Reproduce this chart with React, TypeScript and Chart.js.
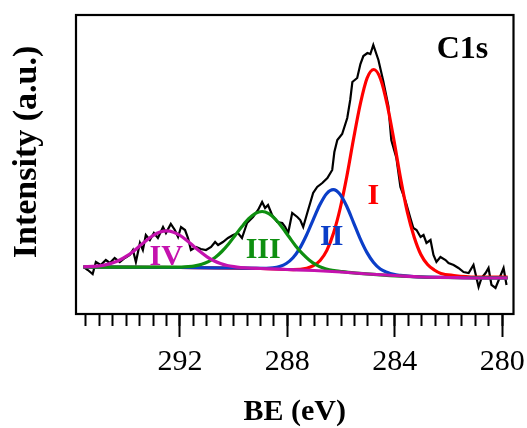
import React, { useEffect, useRef } from 'react';
import { Chart, registerables } from 'chart.js';

Chart.register(...registerables);

// Raw C1s spectrum (binding energy in eV, intensity in a.u.)
const rawBE = [279.84, 279.95, 280.13, 280.25, 280.40, 280.51, 280.62, 280.77, 280.88, 281.07, 281.25, 281.44, 281.63, 281.81, 282.00, 282.11, 282.30, 282.45, 282.56, 282.67, 282.82, 282.93, 283.04, 283.19, 283.31, 283.42, 283.60, 283.79, 283.94, 284.13, 284.24, 284.43, 284.61, 284.80, 284.91, 285.02, 285.17, 285.28, 285.40, 285.58, 285.66, 285.77, 285.96, 286.14, 286.25, 286.33, 286.51, 286.70, 286.89, 287.04, 287.15, 287.26, 287.41, 287.52, 287.63, 287.82, 287.97, 288.08, 288.19, 288.38, 288.57, 288.72, 288.83, 288.94, 289.09, 289.28, 289.50, 289.69, 289.84, 290.02, 290.21, 290.40, 290.58, 290.69, 290.84, 291.03, 291.22, 291.40, 291.59, 291.70, 291.81, 291.96, 292.07, 292.19, 292.34, 292.52, 292.63, 292.82, 292.97, 293.12, 293.27, 293.38, 293.49, 293.64, 293.75, 293.87, 294.05, 294.24, 294.43, 294.61, 294.76, 294.95, 295.13, 295.25, 295.43, 295.58];
const rawIntensity = [29, 46, 34, 26, 29, 46, 41, 36, 27, 49, 41, 42, 46, 49, 51, 54, 57, 52, 59, 74, 71, 79, 77, 84, 86, 96, 113, 127, 156, 174, 208, 233, 254, 269, 260, 261, 258, 250, 236, 232, 214, 196, 180, 174, 162, 144, 136, 131, 127, 121, 111, 101, 87, 94, 97, 101, 81, 87, 91, 92, 99, 109, 106, 112, 104, 97, 91, 76, 81, 79, 76, 72, 69, 72, 67, 64, 65, 67, 64, 76, 84, 87, 77, 84, 90, 81, 87, 76, 81, 74, 79, 64, 71, 52, 64, 59, 56, 52, 56, 51, 54, 49, 52, 40, 44, 47];

// Fitted component I (red)
const peakI_BE = [279.8, 281.0, 281.8, 282.28, 282.53, 282.78, 283.03, 283.28, 283.53, 283.78, 284.03, 284.28, 284.53, 284.78, 285.03, 285.28, 285.53, 285.78, 286.03, 286.28, 286.53, 286.78, 287.03, 287.28, 287.78, 289.0, 292.0, 295.6];
const peakI_Int = [37, 37, 38.5, 40.5, 44, 49.5, 59.5, 77, 101.5, 135, 173.5, 209, 235, 244.5, 236, 210.5, 176, 138.5, 106, 81, 63.6, 53.5, 48.3, 45.8, 44.4, 45.5, 46.5, 47];

// Fitted component II (blue)
const peakII_BE = [279.8, 282.0, 283.29, 283.79, 284.04, 284.29, 284.54, 284.79, 285.04, 285.29, 285.54, 285.79, 286.04, 286.29, 286.54, 286.79, 287.04, 287.29, 287.54, 287.79, 288.04, 288.29, 288.54, 288.79, 290.0, 292.0, 295.6];
const peakII_Int = [36, 36.5, 37.3, 38.6, 39.6, 41.7, 45, 51.5, 61.6, 75.4, 91.7, 107.7, 119.7, 124.3, 120.3, 109.2, 94.2, 78.7, 65.6, 56.2, 50.5, 47.5, 46.1, 45.7, 46, 46.5, 47];

// Fitted component III (green)
const peakIII_BE = [279.8, 283.0, 285.44, 285.94, 286.19, 286.44, 286.69, 286.94, 287.19, 287.44, 287.69, 287.94, 288.19, 288.44, 288.69, 288.94, 289.19, 289.44, 289.69, 289.94, 290.19, 290.44, 290.69, 290.94, 291.19, 291.44, 291.69, 291.94, 293.5, 295.6];
const peakIII_Int = [36, 37, 40.9, 42.3, 43.1, 44.3, 46.2, 49.4, 54.1, 60.3, 68.1, 77.2, 86.5, 94.6, 100.3, 102.5, 100.7, 95.3, 87.5, 78.8, 70, 62.5, 56.5, 52.4, 49.7, 48.1, 47.3, 46.9, 46.8, 47];

// Fitted component IV (magenta)
const peakIV_BE = [279.8, 281.0, 282.0, 283.0, 284.0, 285.0, 286.0, 287.0, 288.0, 289.0, 289.49, 289.74, 289.99, 290.24, 290.49, 290.74, 290.99, 291.24, 291.49, 291.74, 291.99, 292.24, 292.49, 292.74, 292.99, 293.24, 293.49, 293.74, 293.99, 294.24, 294.49, 294.74, 294.99, 295.24, 295.49, 295.6];
const peakIV_Int = [36, 36, 36.5, 37, 38.5, 40, 42, 43.5, 44.5, 45.5, 46, 46.5, 47.3, 48.5, 50.5, 53.3, 57.2, 62.2, 67.8, 73.5, 78.5, 81.8, 83.1, 81.9, 78.6, 73.8, 68.2, 62.6, 57.8, 54, 51.2, 49.4, 48.2, 47.6, 47.3, 47.2];

// Axis ticks and labels
const majorTicks = [280, 284, 288, 292];
const minorTicks = [280, 280.5, 281, 281.5, 282, 282.5, 283, 283.5, 284, 284.5, 285, 285.5, 286, 286.5, 287, 287.5, 288, 288.5, 289, 289.5, 290, 290.5, 291, 291.5, 292, 292.5, 293, 293.5, 294, 294.5, 295, 295.5];
const peakNames = ['I', 'II', 'III', 'IV'];
const peakLabelBE = [284.8, 286.35, 288.9, 292.51];
const peakLabelInt = [110.5, 69, 55.7, 49];
const peakColors = ['#ff0000', '#0b3ec8', '#0e8f10', '#c412ae'];
const xTitle = 'BE (eV)';
const yTitle = 'Intensity (a.u.)';
const panelLabel = 'C1s';

const X_MIN = 279.58;
const X_MAX = 295.87;
const Y_MIN = 0;
const Y_MAX = 299;

const SERIF = '"Liberation Serif", "Times New Roman", Times, serif';

const toPoints = (xs: number[], ys: number[]) => xs.map((x, i) => ({ x, y: ys[i] }));

const decorPlugin = {
  id: 'decor',
  afterDatasetsDraw(chart: any) {
    const { ctx, chartArea: a, scales } = chart;
    ctx.save();
    ctx.strokeStyle = '#000';
    ctx.lineWidth = 2.2;
    ctx.strokeRect(a.left, a.top, a.right - a.left, a.bottom - a.top);

    ctx.font = `bold 30px ${SERIF}`;
    ctx.textAlign = 'center';
    ctx.textBaseline = 'alphabetic';
    peakNames.forEach((name, i) => {
      ctx.fillStyle = peakColors[i];
      ctx.fillText(name, scales.x.getPixelForValue(peakLabelBE[i]), scales.y.getPixelForValue(peakLabelInt[i]));
    });

    ctx.fillStyle = '#000';
    ctx.fillText(xTitle, (a.left + a.right) / 2, chart.height - 8);

    ctx.font = `bold 32px ${SERIF}`;
    ctx.fillText(panelLabel, a.right - 51, a.top + 43);

    ctx.font = `bold 34px ${SERIF}`;
    ctx.translate(36, 152);
    ctx.rotate(-Math.PI / 2);
    ctx.fillText(yTitle, 0, 0);
    ctx.restore();
  },
};

export default function App() {
  const canvasRef = useRef<HTMLCanvasElement | null>(null);

  useEffect(() => {
    if (!canvasRef.current) return;
    const lineBase = { pointRadius: 0, fill: false, cubicInterpolationMode: 'monotone' as const, borderWidth: 3.2 };
    const chart = new Chart(canvasRef.current, {
      type: 'line',
      data: {
        datasets: [
          { ...lineBase, label: 'IV', data: toPoints(peakIV_BE, peakIV_Int), borderColor: peakColors[3] },
          { ...lineBase, label: 'III', data: toPoints(peakIII_BE, peakIII_Int), borderColor: peakColors[2] },
          { ...lineBase, label: 'II', data: toPoints(peakII_BE, peakII_Int), borderColor: peakColors[1] },
          { ...lineBase, label: 'I', data: toPoints(peakI_BE, peakI_Int), borderColor: peakColors[0] },
          { label: 'raw', data: toPoints(rawBE, rawIntensity), borderColor: '#000', borderWidth: 2.2, pointRadius: 0, tension: 0, fill: false },
        ],
      },
      options: {
        animation: false,
        responsive: false,
        devicePixelRatio: 1,
        layout: { padding: { left: 76, right: 13.5, top: 15, bottom: 0 } },
        plugins: { legend: { display: false }, tooltip: { enabled: false }, title: { display: false } },
        scales: {
          x: {
            type: 'linear',
            position: 'bottom',
            reverse: true,
            min: X_MIN,
            max: X_MAX,
            weight: 1,
            afterBuildTicks: (s: any) => { s.ticks = majorTicks.map((v) => ({ value: v })); },
            afterFit: (s: any) => { s.height = 114; },
            grid: { display: true, drawOnChartArea: false, drawTicks: true, tickLength: 23, tickWidth: 2, tickColor: '#000' },
            border: { display: false },
            ticks: { autoSkip: false, maxRotation: 0, minRotation: 0, padding: 7, color: '#000', font: { family: SERIF, size: 30 } },
          },
          xMinor: {
            type: 'linear',
            position: 'bottom',
            reverse: true,
            min: X_MIN,
            max: X_MAX,
            weight: 0,
            afterBuildTicks: (s: any) => { s.ticks = minorTicks.map((v) => ({ value: v })); },
            afterFit: (s: any) => { s.height = 0; },
            grid: { display: true, drawOnChartArea: false, drawTicks: true, tickLength: 12, tickWidth: 2, tickColor: '#000' },
            border: { display: false },
            ticks: { display: false },
          },
          y: { type: 'linear', display: false, min: Y_MIN, max: Y_MAX },
        },
      },
      plugins: [decorPlugin],
    } as any);
    return () => chart.destroy();
  }, []);

  return (
    <div style={{ position: 'fixed', left: 0, top: 0, width: 527, height: 428, background: '#fff' }}>
      <canvas ref={canvasRef} width={527} height={428} style={{ display: 'block' }} />
    </div>
  );
}
